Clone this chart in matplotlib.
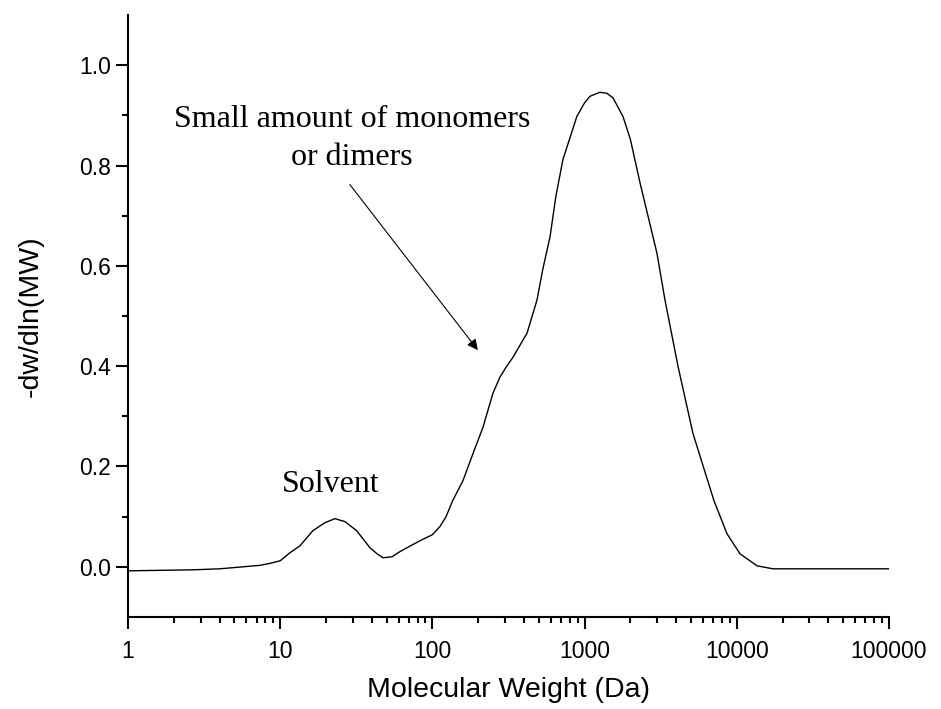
import matplotlib.pyplot as plt
from matplotlib.ticker import FixedLocator, LogLocator, NullFormatter

# Molecular weight distribution
mw = [1, 2.67, 4.0, 5.7, 7.4, 8.6, 10, 11.6, 13.5, 16.4, 19.7, 22.9, 26.7,
      31.8, 38.9, 43.3, 47.4, 54.3, 61, 70, 83, 100, 112, 123, 136, 159, 185,
      215, 250, 278, 305, 339, 419, 487, 533, 593, 649, 721, 890, 1000, 1085,
      1259, 1400, 1537, 1787, 2000, 2312, 2990, 3375, 4109, 5152, 7081, 8623,
      10497, 13580, 17300, 30000, 100000]
dwdlnmw = [-0.008, -0.006, -0.004, 0.0, 0.003, 0.007, 0.012, 0.028, 0.042,
           0.072, 0.088, 0.096, 0.09, 0.072, 0.038, 0.026, 0.018, 0.02, 0.03,
           0.04, 0.052, 0.064, 0.08, 0.1, 0.132, 0.172, 0.226, 0.278, 0.346,
           0.378, 0.398, 0.418, 0.466, 0.532, 0.595, 0.658, 0.74, 0.812,
           0.898, 0.925, 0.938, 0.946, 0.944, 0.935, 0.898, 0.852, 0.766,
           0.625, 0.532, 0.40, 0.266, 0.132, 0.066, 0.026, 0.002, -0.004,
           -0.004, -0.004]

x_ticks = [1, 10, 100, 1000, 10000, 100000]
x_labels = ["1", "10", "100", "1000", "10000", "100000"]
y_ticks = [0.0, 0.2, 0.4, 0.6, 0.8, 1.0]
y_minor = [0.1, 0.3, 0.5, 0.7, 0.9]

fig = plt.figure(figsize=(9.41, 7.09), dpi=100)
ax = fig.add_axes([0.136, 0.1298, 0.8087, 0.849])

ax.plot(mw, dwdlnmw, color="black", linewidth=1.0)

ax.set_xscale("log")
ax.set_xlim(1, 100000)
ax.set_ylim(-0.1, 1.1)

ax.xaxis.set_major_locator(FixedLocator(x_ticks))
ax.set_xticklabels(x_labels)
ax.xaxis.set_minor_locator(LogLocator(base=10, subs=range(2, 10)))
ax.xaxis.set_minor_formatter(NullFormatter())
ax.set_yticks(y_ticks)
ax.set_yticklabels([f"{v:.1f}" for v in y_ticks])
ax.yaxis.set_minor_locator(FixedLocator(y_minor))

for side in ["top", "right"]:
    ax.spines[side].set_visible(False)
for side in ["left", "bottom"]:
    ax.spines[side].set_linewidth(1.5)

ax.tick_params(which="major", direction="out", length=8.5, width=1.5,
               labelsize=16.5)
ax.tick_params(axis="x", which="major", pad=8)
ax.tick_params(which="minor", direction="out", length=4.5, width=1.5)
for lab in ax.get_xticklabels() + ax.get_yticklabels():
    lab.set_family("Liberation Sans")

ax.set_xlabel("Molecular Weight (Da)", fontsize=20.5, family="Liberation Sans",
              labelpad=10)
ax.set_ylabel("-dw/dln(MW)", fontsize=20.5, family="Liberation Sans",
              labelpad=26)

ax.text(21.5, 0.15, "Solvent", fontsize=23, family="Liberation Serif",
        ha="center", va="baseline")
ax.text(29.6, 0.876, "Small amount of monomers", fontsize=23,
        family="Liberation Serif", ha="center", va="baseline")
ax.text(29.6, 0.802, "or dimers", fontsize=23,
        family="Liberation Serif", ha="center", va="baseline")
ax.annotate("", xy=(199, 0.432), xytext=(28.7, 0.762),
            arrowprops=dict(arrowstyle="-|>", color="black", lw=0.8,
                            mutation_scale=16, shrinkA=0, shrinkB=0))

fig.savefig("out.png", dpi=100)
